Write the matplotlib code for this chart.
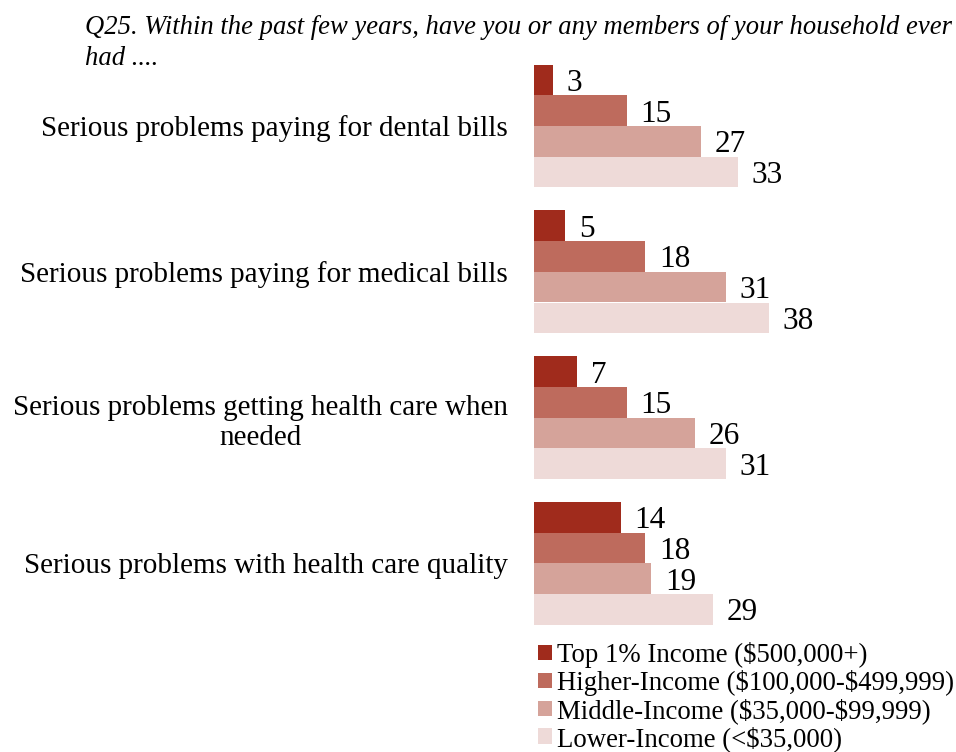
import matplotlib
matplotlib.use("Agg")
import matplotlib.pyplot as plt
from matplotlib.patches import Patch

plt.rcParams['font.family'] = ['Liberation Serif', 'DejaVu Serif']

title = "Q25. Within the past few years, have you or any members of your household ever\nhad ...."
categories = [
    "Serious problems paying for dental bills",
    "Serious problems paying for medical bills",
    "Serious problems getting health care when\nneeded",
    "Serious problems with health care quality",
]
series_names = [
    r"Top 1% Income (\$500,000+)",
    r"Higher-Income (\$100,000-\$499,999)",
    r"Middle-Income (\$35,000-\$99,999)",
    r"Lower-Income (<\$35,000)",
]
top1 = [3, 5, 7, 14]
higher = [15, 18, 15, 18]
middle = [27, 31, 26, 19]
lower = [33, 38, 31, 29]
colors = ["#A02B1C", "#BE6B5D", "#D5A39A", "#EEDAD8"]

W, H = 956, 752
fig = plt.figure(figsize=(W / 100, H / 100), dpi=100)

x0 = 534
px_per_unit = 6.18
y_first = 126
step = 145.8
ax = fig.add_axes([x0 / W, 0, (W - x0) / W, 1])
ax.set_xlim(0, (W - x0) / px_per_unit)
ax.set_ylim((H - y_first) / step, -y_first / step)

bar_h = 30.7 / step
all_series = [top1, higher, middle, lower]
for k, (vals, col) in enumerate(zip(all_series, colors)):
    offs = (k - 1.5) * bar_h
    ys = [i + offs for i in range(len(categories))]
    ax.barh(ys, vals, height=bar_h, color=col, edgecolor='none')
    for y, v in zip(ys, vals):
        ax.annotate(str(v), (v, y), xytext=(10, 0), textcoords='offset points',
                    ha='left', va='center_baseline', fontsize=22.5)

ax.set_yticks(range(len(categories)))
ax.set_yticklabels(categories, fontsize=21, multialignment='center', linespacing=1.2)
ax.tick_params(axis='y', length=0, pad=18.7)
ax.set_xticks([])
for s in ax.spines.values():
    s.set_visible(False)
ax.patch.set_alpha(0)

fig.text(85 / W, 1 - 65 / H, title, fontsize=19.2, style='italic', ha='left', va='baseline',
         linespacing=1.3)

handles = [Patch(facecolor=c, edgecolor='none') for c in colors]
fig.legend(handles, series_names, loc='upper left', bbox_to_anchor=(538 / W, 1 - 642 / H),
           frameon=False, fontsize=19.3, handlelength=0.52, handleheight=0.52,
           handletextpad=0.2, labelspacing=0.075, borderpad=0, borderaxespad=0)

fig.savefig("out.png", dpi=100)
